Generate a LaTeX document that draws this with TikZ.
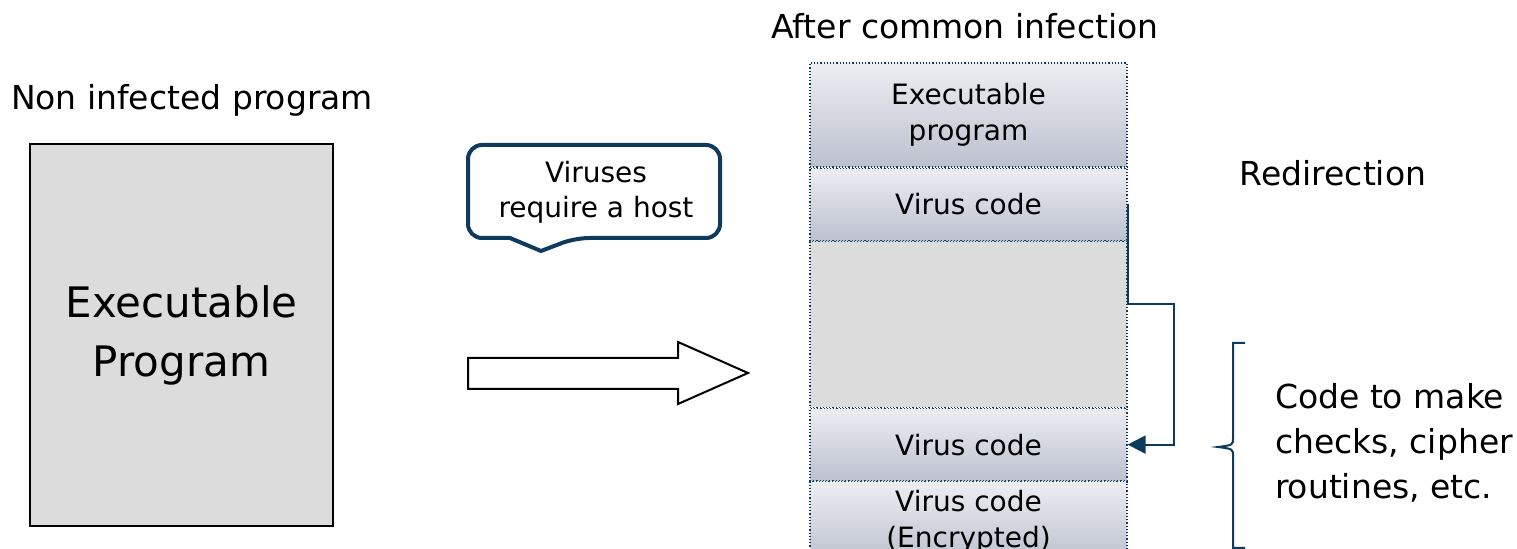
\documentclass[tikz,border=0pt]{standalone}
\usepackage{fontspec}
\setmainfont{DejaVu Sans}
\usetikzlibrary{calc,
arrows.meta,
positioning}

\definecolor{navy}{HTML}{0E3A5E}
\definecolor{panel}{HTML}{DCDCDC}
\definecolor{rowtop}{HTML}{EDEEF2}
\definecolor{rowbot}{HTML}{BCC1CE}

\begin{document}
\begin{tikzpicture}[
  x=0.5pt, y=-0.5pt,
  every node/.style={font=\fontsize{16.5}{22.5}\selectfont},
  row/.style={
    draw=navy,
    densely dotted,
    line width=0.6pt,
    top color=rowtop,
    bottom color=rowbot,
    minimum width=158.5pt,
    inner sep=0pt,
    align=center,
    font=\fontsize{14}{18}\selectfont}
]

  \useasboundingbox (0,0) rectangle (1517,549);

  % left side
  \node (plain_lb) at (192,100) {Non infected program};
  \node [
    draw,
    line width=1pt,
    fill=panel,
    minimum width = 151.5pt,
    minimum height = 191pt,
    align=center,
    font=\fontsize{21}{29.5}\selectfont
  ] (host) at (181.5,335) {Executable\\Program};

  % callout
  \draw [navy, line width=2pt, line join=round, fill=white]
    (575,238) -- (541,251) -- (510,238)
    [rounded corners=7pt] -- (468,238) -- (468,145) -- (720,145)
    -- (720,238) -- cycle;
  \node [
    align=center,
    font=\fontsize{14}{17.5}\selectfont
  ] (note) at (596,192) {Viruses\\require a host};

  % block arrow
  \draw [line width=1pt, fill=white]
    (468,358) -- (678,358) -- (678,342) -- (748,373)
    -- (678,404) -- (678,389) -- (468,389) -- cycle;

  % infected stack
  \node (infected_lb) at (965,26) {After common infection};
  \node [
    row,
    minimum height = 52pt
  ] (lv1) at (968.5,115) {Executable\\program};
  \node [
    row,
    minimum height = 36pt,
    below = 0pt of lv1
  ] (lv2) {Virus code};
  \node [
    draw=navy,
    densely dotted,
    line width=0.6pt,
    fill=panel,
    minimum width = 158.5pt,
    minimum height = 83pt,
    below = 0pt of lv2
  ] (lv3) {};
  \node [
    row,
    minimum height = 36pt,
    below = 0pt of lv3
  ] (lv4) {Virus code};
  \node [
    row,
    minimum height = 40pt,
    below = 0pt of lv4
  ] (lv5) {Virus code\\(Encrypted)};

  % redirection
  \node (redir_lb) at (1333,173) {Redirection};
  \draw [navy, line width=1pt, -{Triangle[length=9pt,width=9pt]}]
    (lv2.east) -- ($(lv2.east)+(0,100)$) -| ($(lv4.east)+(46,0)$) -- (lv4.east);

  % brace
  \draw [navy, line width=1pt]
    (1245,343) -- (1233,343) -- (1233,438)
    .. controls (1233,445) .. (1218,447)
    .. controls (1233,449) .. (1233,456)
    -- (1233,548) -- (1245,548);
  \node [align=left, anchor=west] (extra_lb) at (1268,443) {Code to make\\checks, cipher\\routines, etc.};

\end{tikzpicture}
\end{document}
